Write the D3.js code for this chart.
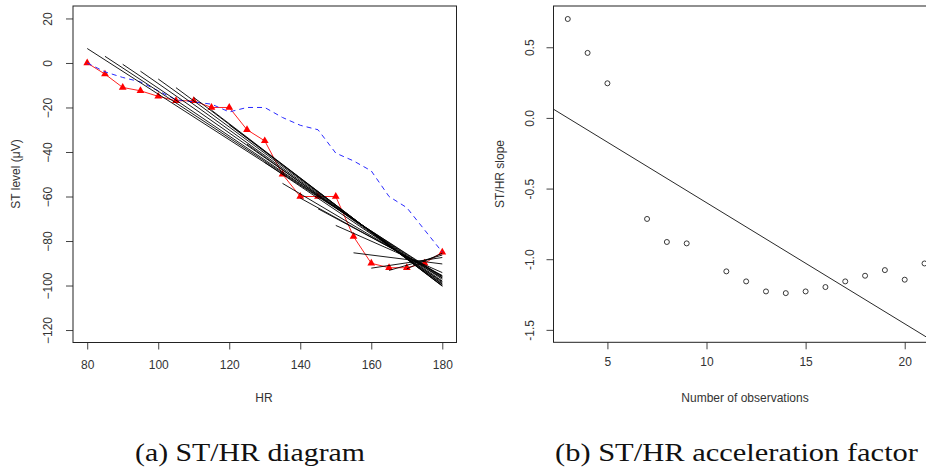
<!DOCTYPE html>
<html>
<head>
<meta charset="utf-8">
<script src="https://cdn.jsdelivr.net/npm/d3@7"></script>
<style>
  body { margin: 0; background: #ffffff; }
  svg { display: block; }
  .tick text { font-family: "Liberation Sans", Arial, Helvetica, sans-serif; font-size: 12px; fill: #333333; }
  .tick line { stroke: #444444; }
</style>
</head>
<body>
<div id="figure"></div>
<script>

// Left panel: ST level against heart rate
var hrValues = [80, 85, 90, 95, 100, 105, 110, 115, 120, 125, 130, 135, 140, 145, 150, 155, 160, 165, 170, 175, 180];
var stValues = [0, -5, -11, -12.5, -15, -17, -17, -20, -20, -30, -35, -50, -60, -60, -60, -78, -90, -92, -92, -90, -85];
var smoothST = [0, -4, -6.5, -8.5, -12.5, -16.5, -17.5, -18.5, -22, -20, -20, -24.5, -28, -30, -40.5, -44, -48.5, -60, -65, -75, -85];

// Fitted lines over the last n observations (all end at HR 180):
var fitStartHR = [170, 165, 160, 155, 150, 145, 140, 135, 130, 125, 120, 115, 110, 105, 100, 95, 90, 85, 80];
var fitStartST = [-92.5, -93.2, -92.2, -85.3, -73.0, -65.5, -60.7, -54.1, -44.7, -36.5, -27.8, -21.2, -15.5, -11.1, -7.2, -3.7, -0.6, 3.0, 6.5];
var fitEndST = [-85.5, -86.3, -87.4, -90.3, -94.2, -95.5, -95.8, -96.6, -98.3, -99.3, -100.1, -100.3, -100.1, -99.5, -98.8, -98.0, -97.2, -96.5, -96.0];
var fitEndHR = 180;

var hrTicks = [80, 100, 120, 140, 160, 180];
var stTicks = [20, 0, -20, -40, -60, -80, -100, -120];

// Right panel: slope against number of observations
var nObs = [3, 4, 5, 7, 8, 9, 11, 12, 13, 14, 15, 16, 17, 18, 19, 20, 21];
var slopeValues = [0.70, 0.46, 0.245, -0.715, -0.878, -0.888, -1.086, -1.157, -1.228, -1.24, -1.228, -1.197, -1.157, -1.117, -1.077, -1.145, -1.03];
var trendIntercept = 0.257;
var trendSlope = -0.0857;

var nTicks = [5, 10, 15, 20];
var slopeTicks = [0.5, 0, -0.5, -1, -1.5];

var svgWidth = 926;
var svgHeight = 471;
var sansFont = '"Liberation Sans", Arial, Helvetica, sans-serif';

var svg = d3.select('#figure')
  .append('svg')
  .attr('width', svgWidth)
  .attr('height', svgHeight);

// ---------------- panel (a) ----------------
var xA = d3.scaleLinear().domain([76, 184]).range([73, 456.5]);
var yA = d3.scaleLinear().domain([-125.6, 25.6]).range([342.5, 6]);

var panelA = svg.append('g');

panelA.append('g')
  .attr('transform', 'translate(0,342.5)')
  .call(d3.axisBottom(xA).tickValues(hrTicks).tickSize(7).tickPadding(11).tickFormat(d3.format('d')))
  .call(g => g.select('.domain').remove());

panelA.append('g')
  .attr('transform', 'translate(73,0)')
  .call(d3.axisLeft(yA).tickValues(stTicks).tickSize(7).tickFormat(d3.format('d')))
  .call(g => g.select('.domain').remove())
  .call(g => g.selectAll('.tick text')
    .attr('x', 0).attr('dy', null)
    .attr('text-anchor', 'middle')
    .attr('dominant-baseline', 'central')
    .attr('transform', 'translate(-25,0) rotate(-90)'));

// red observed series
var redLine = d3.line()
  .x((d, i) => xA(hrValues[i]))
  .y(d => yA(d));

panelA.append('path')
  .datum(stValues)
  .attr('d', redLine)
  .attr('fill', 'none')
  .attr('stroke', '#ff2020')
  .attr('stroke-width', 1);

panelA.selectAll('.tri')
  .data(stValues)
  .enter()
  .append('path')
  .attr('class', 'tri')
  .attr('d', d3.symbol().type(d3.symbolTriangle).size(26))
  .attr('transform', (d, i) => `translate(${xA(hrValues[i])},${yA(d)})`)
  .attr('fill', '#ff0000');

// blue dashed series
panelA.append('path')
  .datum(smoothST)
  .attr('d', redLine)
  .attr('fill', 'none')
  .attr('stroke', '#2a2aff')
  .attr('stroke-width', 1)
  .attr('stroke-dasharray', '5,4');

// black fitted lines
panelA.selectAll('.fit')
  .data(fitStartHR)
  .enter()
  .append('line')
  .attr('class', 'fit')
  .attr('x1', d => xA(d))
  .attr('y1', (d, i) => yA(fitStartST[i]))
  .attr('x2', xA(fitEndHR))
  .attr('y2', (d, i) => yA(fitEndST[i]))
  .attr('stroke', '#000000')
  .attr('stroke-width', 0.9);

panelA.append('rect')
  .attr('x', xA.range()[0]).attr('y', yA.range()[1])
  .attr('width', xA.range()[1] - xA.range()[0])
  .attr('height', yA.range()[0] - yA.range()[1])
  .attr('fill', 'none')
  .attr('stroke', '#222222');

panelA.append('text')
  .attr('x', 264).attr('y', 398)
  .attr('text-anchor', 'middle').attr('dominant-baseline', 'central')
  .attr('font-family', sansFont).attr('font-size', 12).attr('fill', '#333333')
  .text('HR');

panelA.append('text')
  .attr('transform', 'translate(16,174) rotate(-90)')
  .attr('text-anchor', 'middle').attr('dominant-baseline', 'central')
  .attr('font-family', sansFont).attr('font-size', 12).attr('fill', '#333333')
  .text('ST level (\u03bcV)');

// ---------------- panel (b) ----------------
var xB = d3.scaleLinear().domain([2.28, 21.72]).range([553.5, 938.8]);
var yB = d3.scaleLinear().domain([-1.588, 0.792]).range([342.3, 6]);

var panelB = svg.append('g');

panelB.append('g')
  .attr('transform', 'translate(0,342.3)')
  .call(d3.axisBottom(xB).tickValues(nTicks).tickSize(7).tickPadding(8).tickFormat(d3.format('d')))
  .call(g => g.select('.domain').remove());

panelB.append('g')
  .attr('transform', 'translate(553.5,0)')
  .call(d3.axisLeft(yB).tickValues(slopeTicks).tickSize(7).tickFormat(d3.format('.1f')))
  .call(g => g.select('.domain').remove())
  .call(g => g.selectAll('.tick text')
    .text(d => d3.format('.1f')(d).replace('\u2212', '-'))
    .attr('x', 0).attr('dy', null)
    .attr('text-anchor', 'middle')
    .attr('dominant-baseline', 'central')
    .attr('transform', 'translate(-24,0) rotate(-90)'));

panelB.append('line')
  .attr('x1', xB(xB.domain()[0]))
  .attr('y1', yB(trendIntercept + trendSlope * xB.domain()[0]))
  .attr('x2', xB(xB.domain()[1]))
  .attr('y2', yB(trendIntercept + trendSlope * xB.domain()[1]))
  .attr('stroke', '#111111')
  .attr('stroke-width', 0.9);

panelB.selectAll('.obs')
  .data(slopeValues)
  .enter()
  .append('circle')
  .attr('class', 'obs')
  .attr('cx', (d, i) => xB(nObs[i]))
  .attr('cy', d => yB(d))
  .attr('r', 2.5)
  .attr('fill', 'none')
  .attr('stroke', '#222222')
  .attr('stroke-width', 0.9);

panelB.append('rect')
  .attr('x', xB.range()[0]).attr('y', yB.range()[1])
  .attr('width', xB.range()[1] - xB.range()[0])
  .attr('height', yB.range()[0] - yB.range()[1])
  .attr('fill', 'none')
  .attr('stroke', '#222222');

panelB.append('text')
  .attr('x', 745).attr('y', 398)
  .attr('text-anchor', 'middle').attr('dominant-baseline', 'central')
  .attr('font-family', sansFont).attr('font-size', 12).attr('fill', '#333333')
  .text('Number of observations');

panelB.append('text')
  .attr('transform', 'translate(500,174) rotate(-90)')
  .attr('text-anchor', 'middle').attr('dominant-baseline', 'central')
  .attr('font-family', sansFont).attr('font-size', 12).attr('fill', '#333333')
  .text('ST/HR slope');

// ---------------- captions ----------------
svg.append('text')
  .attr('x', 250).attr('y', 461)
  .attr('text-anchor', 'middle')
  .attr('font-family', '"Liberation Serif", "DejaVu Serif", serif')
  .attr('font-size', 25).attr('fill', '#111111')
  .attr('textLength', 230).attr('lengthAdjust', 'spacingAndGlyphs')
  .text('(a) ST/HR diagram');

svg.append('text')
  .attr('x', 736.5).attr('y', 461)
  .attr('text-anchor', 'middle')
  .attr('font-family', '"Liberation Serif", "DejaVu Serif", serif')
  .attr('font-size', 25).attr('fill', '#111111')
  .attr('textLength', 363).attr('lengthAdjust', 'spacingAndGlyphs')
  .text('(b) ST/HR acceleration factor');

</script>
</body>
</html>
